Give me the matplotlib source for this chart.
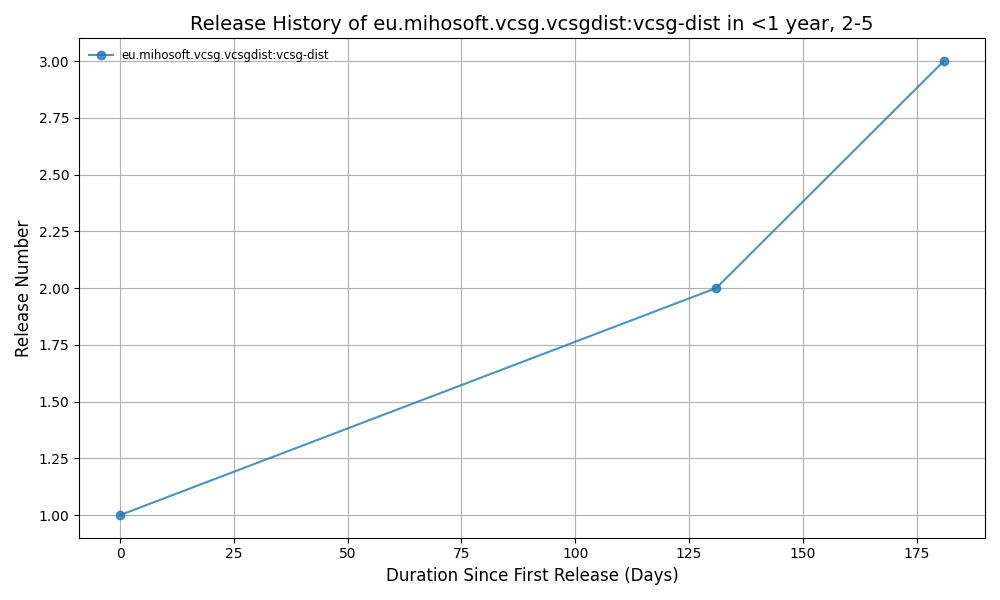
import matplotlib
matplotlib.use('Agg')
import matplotlib.pyplot as plt

# release history data
package = "eu.mihosoft.vcsg.vcsgdist:vcsg-dist"
days = [0, 131, 181]
release_number = [1, 2, 3]


def main():
    fig, ax = plt.subplots(figsize=(10, 6), dpi=100)

    ax.plot(days, release_number, marker='o', color='#1f77b4', alpha=0.8,
            label=package)

    ax.set_title("Release History of {} in <1 year, 2-5".format(package), fontsize=14)
    ax.set_xlabel("Duration Since First Release (Days)", fontsize=12)
    ax.set_ylabel("Release Number", fontsize=12)
    ax.grid(True)
    ax.legend(loc='upper left', fontsize='small', frameon=False)

    fig.tight_layout()
    fig.savefig('out.png')


if __name__ == "__main__":
    main()
